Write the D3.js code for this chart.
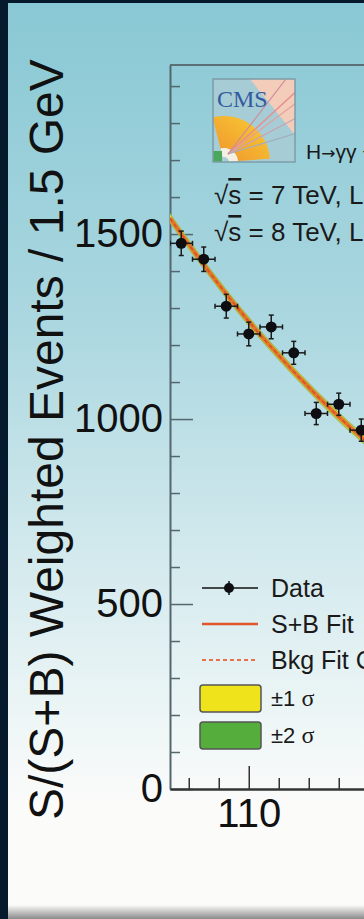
<!DOCTYPE html>
<html>
<head>
<meta charset="utf-8">
<script src="https://cdn.jsdelivr.net/npm/d3@7"></script>
<style>
  html, body { margin: 0; padding: 0; background: #fbfbfa; }
  svg { display: block; font-family: "Liberation Sans", Arial, sans-serif; }
</style>
</head>
<body>
<div id="chart"></div>
<script>
// data
const massBins = [105.5, 107.0, 108.5, 110.0, 111.5, 113.0, 114.5, 116.0, 117.5];
const weightedEvents = [1475, 1432, 1305, 1230, 1249, 1179, 1015, 1040, 970];
const eventErrors = [33, 33, 32, 32, 32, 31, 30, 30, 30];

const fitMass = [104.75, 106, 107, 108, 109, 110, 111, 112, 113, 114, 115, 116, 117, 118, 119];
const fitValues = [1543, 1472, 1417, 1364, 1313, 1264, 1217, 1172, 1128, 1086, 1045, 1006, 969, 933, 898];
const oneSigma = [10, 10, 9, 9, 9, 9, 9, 9, 9, 9, 9, 9, 9, 9, 9];
const twoSigma = [14, 14, 13, 13, 13, 13, 13, 13, 13, 13, 13, 13, 13, 13, 13];

const yMajorTicks = [0, 500, 1000, 1500];
const xMajorTicks = [110, 120, 130, 140, 150];
const legendLabels = ["Data", "S+B Fit", "Bkg Fit Component", "\u00b11 \u03c3", "\u00b12 \u03c3"];

const W = 364, H = 919;
const plot = {left: 170, top: 65, bottom: 789};

const svg = d3.select("#chart").append("svg")
  .attr("width", W)
  .attr("height", H);

const defs = svg.append("defs");

// page background
const bg = defs.append("linearGradient").attr("id", "bg")
  .attr("x1", 0).attr("y1", 0).attr("x2", 0).attr("y2", 1);
bg.append("stop").attr("offset", "0").attr("stop-color", "#88c8d4");
bg.append("stop").attr("offset", "0.35").attr("stop-color", "#abd7e0");
bg.append("stop").attr("offset", "0.6").attr("stop-color", "#d2e9ed");
bg.append("stop").attr("offset", "0.8").attr("stop-color", "#f0f7f7");
bg.append("stop").attr("offset", "0.88").attr("stop-color", "#fbfbfa");

const shade = defs.append("linearGradient").attr("id", "shade")
  .attr("x1", 0).attr("y1", 0).attr("x2", 0).attr("y2", 1);
shade.append("stop").attr("offset", "0").attr("stop-color", "#fbfbfa");
shade.append("stop").attr("offset", "1").attr("stop-color", "#8a8a8a");

const wedge = defs.append("linearGradient").attr("id", "wedge")
  .attr("x1", 0).attr("y1", 1).attr("x2", 1).attr("y2", 0);
wedge.append("stop").attr("offset", "0").attr("stop-color", "#f0922a");
wedge.append("stop").attr("offset", "1").attr("stop-color", "#f8cf36");

defs.append("clipPath").attr("id", "plotclip")
  .append("rect")
  .attr("x", plot.left).attr("y", plot.top)
  .attr("width", W - plot.left).attr("height", plot.bottom - plot.top);

defs.append("clipPath").attr("id", "logoclip")
  .append("rect")
  .attr("x", 213).attr("y", 79).attr("width", 82).attr("height", 83);

svg.append("rect").attr("width", W).attr("height", H).attr("fill", "url(#bg)");
svg.append("rect").attr("y", 905).attr("width", W).attr("height", 14).attr("fill", "url(#shade)");

// scales: 15 px per GeV, 0.37 px per event
const x = d3.scaleLinear().domain([104.75, 150]).range([plot.left, plot.left + 45.25 * 15]);
const y = d3.scaleLinear().domain([0, 1957]).range([plot.bottom, plot.top]);

// frame top line
svg.append("line")
  .attr("x1", plot.left).attr("x2", W)
  .attr("y1", plot.top).attr("y2", plot.top)
  .attr("stroke", "#5b6f76").attr("stroke-width", 2);

// y axis, ticks pointing inward
const yMinor = svg.append("g")
  .attr("transform", "translate(" + plot.left + ",0)")
  .call(d3.axisLeft(y)
    .tickValues(d3.range(0, 1957, 100).filter(v => v % 500 !== 0))
    .tickSizeInner(-10).tickSizeOuter(0).tickFormat(""));
yMinor.select(".domain").remove();

const yAxis = svg.append("g")
  .attr("transform", "translate(" + plot.left + ",0)")
  .call(d3.axisLeft(y)
    .tickValues(yMajorTicks)
    .tickFormat(d3.format("d"))
    .tickSizeInner(-23).tickSizeOuter(0).tickPadding(7));
yAxis.select(".domain").attr("stroke", "#55676e").attr("stroke-width", 2);
svg.selectAll(".tick line").attr("stroke", "#55676e").attr("stroke-width", 1.5);
yAxis.selectAll("text")
  .attr("font-size", 40)
  .attr("fill", "#111")
  .style("font-family", "'Liberation Sans', Arial, sans-serif");

// x axis
const xMinor = svg.append("g")
  .attr("transform", "translate(0," + plot.bottom + ")")
  .call(d3.axisBottom(x)
    .tickValues(d3.range(106, 150, 2).filter(v => v % 10 !== 0))
    .tickSizeInner(-11).tickSizeOuter(0).tickFormat(""));
xMinor.select(".domain").remove();
xMinor.selectAll(".tick line").attr("stroke", "#333").attr("stroke-width", 1.5);

const xAxis = svg.append("g")
  .attr("transform", "translate(0," + plot.bottom + ")")
  .call(d3.axisBottom(x)
    .tickValues(xMajorTicks)
    .tickFormat(d3.format("d"))
    .tickSizeInner(-23).tickSizeOuter(0).tickPadding(10));
xAxis.select(".domain").attr("stroke", "#333").attr("stroke-width", 2.5);
xAxis.selectAll(".tick line").attr("stroke", "#333").attr("stroke-width", 1.5);
xAxis.selectAll("text")
  .attr("font-size", 40)
  .attr("fill", "#111")
  .style("font-family", "'Liberation Sans', Arial, sans-serif");

// y title
svg.append("text")
  .attr("transform", "translate(63,820) rotate(-90)")
  .attr("font-size", 48)
  .attr("fill", "#111")
  .text("S/(S+B) Weighted Events / 1.5 GeV");

// fit bands and lines
const fitRows = fitMass.map((m, i) => ({m: m, v: fitValues[i], s1: oneSigma[i], s2: twoSigma[i]}));
const plotArea = svg.append("g").attr("clip-path", "url(#plotclip)");

const band = k => d3.area()
  .x(d => x(d.m))
  .y0(d => y(d.v - d[k]))
  .y1(d => y(d.v + d[k]))
  .curve(d3.curveMonotoneX);

plotArea.append("path").datum(fitRows).attr("d", band("s2")).attr("fill", "#9aba48");
plotArea.append("path").datum(fitRows).attr("d", band("s1")).attr("fill", "#eecf2c");

const fitLine = d3.line().x(d => x(d.m)).y(d => y(d.v)).curve(d3.curveMonotoneX);
plotArea.append("path").datum(fitRows).attr("d", fitLine)
  .attr("fill", "none").attr("stroke", "#e2762a").attr("stroke-width", 4);
plotArea.append("path").datum(fitRows).attr("d", fitLine)
  .attr("fill", "none").attr("stroke", "#d8502a").attr("stroke-width", 1.5)
  .attr("stroke-dasharray", "4,3");

// data points
const pts = massBins.map((m, i) => ({m: m, v: weightedEvents[i], e: eventErrors[i]}));
const pg = plotArea.selectAll("g.pt").data(pts).enter().append("g").attr("class", "pt");
pg.append("line")
  .attr("x1", d => x(d.m - 0.75)).attr("x2", d => x(d.m + 0.75))
  .attr("y1", d => y(d.v)).attr("y2", d => y(d.v));
pg.append("line")
  .attr("x1", d => x(d.m)).attr("x2", d => x(d.m))
  .attr("y1", d => y(d.v - d.e)).attr("y2", d => y(d.v + d.e));
pg.append("line")
  .attr("x1", d => x(d.m) - 2.5).attr("x2", d => x(d.m) + 2.5)
  .attr("y1", d => y(d.v + d.e)).attr("y2", d => y(d.v + d.e));
pg.append("line")
  .attr("x1", d => x(d.m) - 2.5).attr("x2", d => x(d.m) + 2.5)
  .attr("y1", d => y(d.v - d.e)).attr("y2", d => y(d.v - d.e));
pg.append("line")
  .attr("x1", d => x(d.m - 0.75)).attr("x2", d => x(d.m - 0.75))
  .attr("y1", d => y(d.v) - 2.5).attr("y2", d => y(d.v) + 2.5);
pg.append("line")
  .attr("x1", d => x(d.m + 0.75)).attr("x2", d => x(d.m + 0.75))
  .attr("y1", d => y(d.v) - 2.5).attr("y2", d => y(d.v) + 2.5);
pg.selectAll("line").attr("stroke", "#1a1a1a").attr("stroke-width", 1.5);
pg.append("circle")
  .attr("cx", d => x(d.m)).attr("cy", d => y(d.v))
  .attr("r", 5.5).attr("fill", "#0d0d12");

// CMS logo
const logo = svg.append("g").attr("clip-path", "url(#logoclip)");
logo.append("rect").attr("x", 213).attr("y", 79).attr("width", 82).attr("height", 83)
  .attr("fill", "#a6ccd6");
logo.append("path").attr("d", "M250,79 L295,79 L295,135 Z").attr("fill", "#f3cdb9");
logo.append("path")
  .attr("d", d3.arc()({innerRadius: 14, outerRadius: 46, startAngle: -0.25, endAngle: 1.5}))
  .attr("transform", "translate(224,162)")
  .attr("fill", "url(#wedge)");
logo.append("path")
  .attr("d", d3.arc()({innerRadius: 5, outerRadius: 14, startAngle: -0.25, endAngle: 1.5}))
  .attr("transform", "translate(224,162)")
  .attr("fill", "#f5efe2");
logo.append("rect").attr("x", 213).attr("y", 151).attr("width", 9).attr("height", 11).attr("fill", "#4aa85c");
[[300, 88, "#e88f8f", 1.5], [300, 100, "#e2a0a0", 1.2], [300, 116, "#c9a4b0", 1.2],
 [300, 132, "#a2adbd", 1.2], [286, 79, "#d08a9a", 1.2]].forEach(l => {
  logo.append("line").attr("x1", 228).attr("y1", 154).attr("x2", l[0]).attr("y2", l[1])
    .attr("stroke", l[2]).attr("stroke-width", l[3]);
});
logo.append("text").attr("x", 217).attr("y", 107)
  .attr("font-family", "'Liberation Serif', 'DejaVu Serif', serif")
  .attr("font-size", 24).attr("fill", "#345a9e")
  .text("CMS");
svg.append("rect").attr("x", 213).attr("y", 79).attr("width", 82).attr("height", 83)
  .attr("fill", "none").attr("stroke", "#7d9ca8").attr("stroke-width", 1.5);

// annotations
const hText = svg.append("text").attr("x", 306).attr("y", 159).attr("font-size", 21).attr("fill", "#1a1a1a");
hText.append("tspan").text("H");
hText.append("tspan").attr("font-family", "'DejaVu Sans', sans-serif").attr("font-size", 17).text("\u2192");
hText.append("tspan").text("\u03b3\u03b3 + X");
const energyLines = [["7", "5.1", 204], ["8", "5.3", 241]];
energyLines.forEach(r => {
  const t = svg.append("text").attr("x", 214).attr("y", r[2]).attr("font-size", 26).attr("fill", "#1a1a1a");
  t.append("tspan").text("\u221a");
  t.append("tspan").style("text-decoration", "overline").text("s");
  t.append("tspan").text(" = " + r[0] + " TeV, L = " + r[1] + " fb\u207b\u00b9");
});

// legend
const lg = svg.append("g");
lg.append("line").attr("x1", 202).attr("x2", 258).attr("y1", 588).attr("y2", 588)
  .attr("stroke", "#111").attr("stroke-width", 1.5);
lg.append("line").attr("x1", 229).attr("x2", 229).attr("y1", 581).attr("y2", 595)
  .attr("stroke", "#111").attr("stroke-width", 1.5);
lg.append("circle").attr("cx", 229).attr("cy", 588).attr("r", 5).attr("fill", "#0d0d12");
lg.append("line").attr("x1", 202).attr("x2", 258).attr("y1", 624).attr("y2", 624)
  .attr("stroke", "#e2542a").attr("stroke-width", 2.5);
lg.append("line").attr("x1", 202).attr("x2", 258).attr("y1", 660).attr("y2", 660)
  .attr("stroke", "#e8704a").attr("stroke-width", 2).attr("stroke-dasharray", "4,3");
lg.append("rect").attr("x", 200).attr("y", 685).attr("width", 61).attr("height", 27).attr("rx", 3)
  .attr("fill", "#efe31c").attr("stroke", "#555").attr("stroke-width", 1.5);
lg.append("rect").attr("x", 200).attr("y", 722).attr("width", 61).attr("height", 27).attr("rx", 3)
  .attr("fill", "#55ad3c").attr("stroke", "#555").attr("stroke-width", 1.5);

const legendY = [597, 633, 669, 706, 743];
legendLabels.forEach((s, i) => {
  const t = lg.append("text").attr("x", 271).attr("y", legendY[i]).attr("fill", "#1a1a1a");
  if (i < 3) {
    t.attr("font-size", 25).text(s);
  } else {
    t.attr("font-size", 22).text(s.slice(0, 3));
    t.append("tspan").attr("font-family", "'Liberation Serif', serif").attr("font-size", 24).text(s.slice(3));
  }
});

// dark frame of the slide
svg.append("rect").attr("width", 8).attr("height", H).attr("fill", "#061a2e");
svg.append("rect").attr("width", W).attr("height", 3).attr("fill", "#061a2e");
</script>
</body>
</html>
